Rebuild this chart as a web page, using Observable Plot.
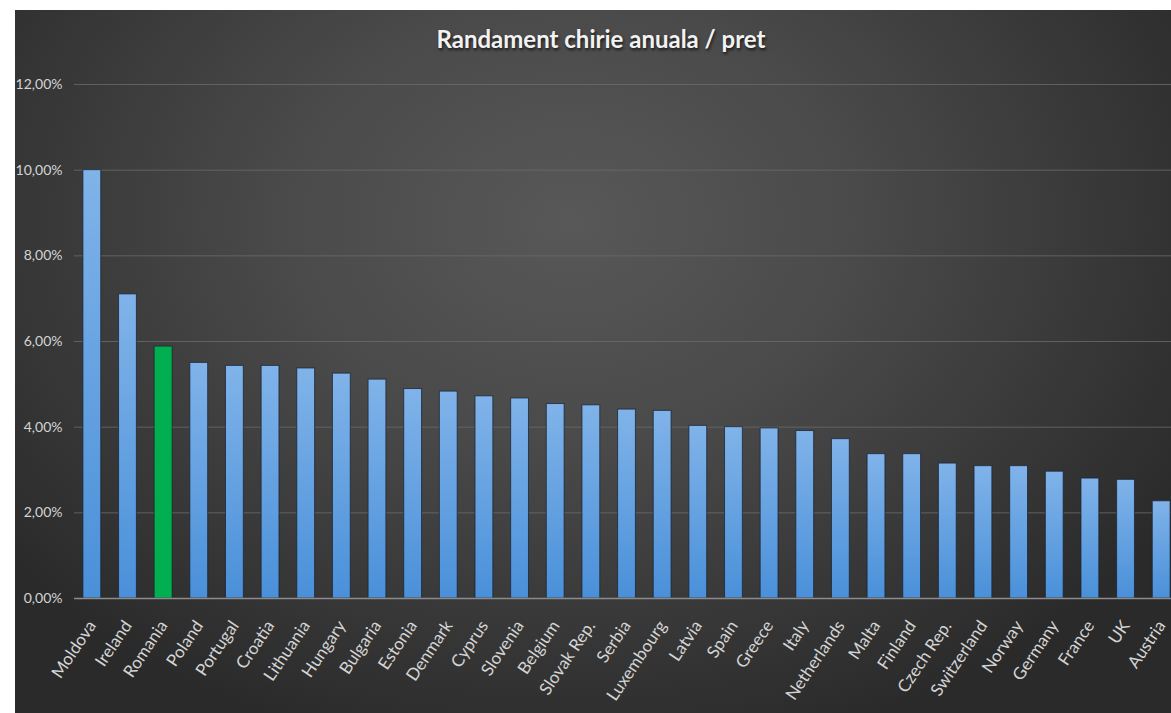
<!DOCTYPE html>
<html>
<head>
<meta charset="utf-8">
<script src="https://cdn.jsdelivr.net/npm/d3@7"></script>
<script src="https://cdn.jsdelivr.net/npm/@observablehq/plot@0.6"></script>
<style>
  html, body { margin: 0; padding: 0; background: #ffffff; width: 1171px; height: 713px; overflow: hidden; }
  #panel {
    position: absolute; left: 15px; top: 10px; width: 1156px; height: 703px; overflow: hidden;
    background: radial-gradient(ellipse 62% 78% at 48% 30%, #585858 0%, #4a4a4a 40%, #2a2a2a 100%);
  }
  #title {
    position: absolute; left: 0; top: 14px; width: 100%; padding-left: 16px; box-sizing: border-box;
    text-align: center; font-family: Lato, "Open Sans", sans-serif; font-weight: 700; font-size: 24px;
    color: #f2f2f2; text-shadow: 1px 2px 3px rgba(0,0,0,0.7); line-height: 30px;
  }
  #chart { position: absolute; left: 0; top: 0; }
</style>
</head>
<body>
<div id="panel">
  <div id="chart"></div>
  <div id="title">Randament chirie anuala / pret</div>
</div>
<script>
const countries = ["Moldova", "Ireland", "Romania", "Poland", "Portugal", "Croatia", "Lithuania", "Hungary", "Bulgaria", "Estonia", "Denmark", "Cyprus", "Slovenia", "Belgium", "Slovak Rep.", "Serbia", "Luxembourg", "Latvia", "Spain", "Greece", "Italy", "Netherlands", "Malta", "Finland", "Czech Rep.", "Switzerland", "Norway", "Germany", "France", "UK", "Austria"];
const values = [10.0, 7.10, 5.88, 5.50, 5.43, 5.43, 5.37, 5.25, 5.11, 4.89, 4.83, 4.72, 4.67, 4.54, 4.51, 4.41, 4.38, 4.03, 4.00, 3.97, 3.91, 3.72, 3.37, 3.37, 3.15, 3.09, 3.09, 2.96, 2.80, 2.77, 2.27];
const highlight = "Romania";
const yTicks = [0, 2, 4, 6, 8, 10, 12];

const data = countries.map((c, i) => ({country: c, value: values[i]}));
const fmt = d => d.toFixed(2).replace(".", ",") + "%";

const plot = Plot.plot({
  width: 1156,
  height: 703,
  marginTop: 74,
  marginBottom: 115,
  marginLeft: 59,
  marginRight: 0,
  style: {background: "transparent", color: "#d9d9d9", fontFamily: "Lato, 'Open Sans', sans-serif", overflow: "visible"},
  x: {domain: countries, range: [59, 1164], paddingInner: 0.5, paddingOuter: 0.25, round: false},
  y: {domain: [0, 12]},
  marks: [
    Plot.gridY(yTicks, {stroke: "#6a6a6a", strokeOpacity: 0.8, strokeWidth: 1}),
    Plot.barY(data.filter(d => d.country !== highlight), {x: "country", y: "value", fill: "url(#blueGrad)", stroke: "rgba(25,35,50,0.75)", strokeWidth: 1}),
    Plot.barY(data.filter(d => d.country === highlight), {x: "country", y: "value", fill: "#00b050", stroke: "rgba(25,35,30,0.6)", strokeWidth: 1}),
    Plot.ruleY([0], {stroke: "#8c8c8c", strokeWidth: 1.5}),
    Plot.axisY(yTicks, {tickSize: 0, tickPadding: 12, tickFormat: fmt, fontSize: 14, fill: "#d4d4d4", label: null}),
    Plot.axisX({tickSize: 0, tickPadding: 24, tickRotate: -56, fontSize: 17, fill: "#d4d4d4", label: null})
  ]
});

const svg = d3.select(plot);
const defs = svg.insert("defs", ":first-child");
const g = defs.append("linearGradient").attr("id", "blueGrad").attr("x1", 0).attr("y1", 0).attr("x2", 0).attr("y2", 1);
g.append("stop").attr("offset", "0%").attr("stop-color", "#80b3e9");
g.append("stop").attr("offset", "100%").attr("stop-color", "#4a90d9");

document.getElementById("chart").appendChild(plot);
</script>
</body>
</html>
